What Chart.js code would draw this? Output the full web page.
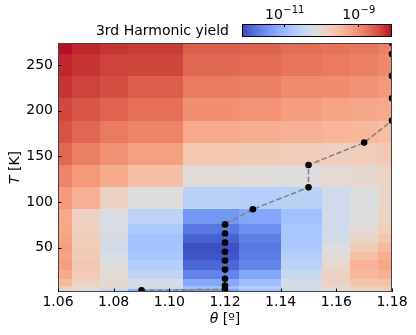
<!DOCTYPE html>
<html>
<head>
<meta charset="utf-8">
<script src="https://cdn.jsdelivr.net/npm/chart.js@4.4.0/dist/chart.umd.min.js"></script>
<style>
  html, body { margin: 0; padding: 0; background: #fff; }
  #wrap { width: 416px; height: 335px; }
</style>
</head>
<body>
<div id="wrap"><canvas id="chart" width="416" height="335"></canvas></div>
<script>
// cell edges of the map: twist angle (deg) and temperature (K)
var thetaEdges = [1.06, 1.065, 1.075, 1.085, 1.105, 1.125, 1.14, 1.155, 1.165, 1.175, 1.18];
var tempEdges = [1.5, 4.5, 8.5, 16, 26, 36, 45.5, 55.5, 65.5, 75.5, 92, 116, 140.5, 165, 189, 213.5, 238, 262, 274];

// log10 of the 3rd harmonic yield, one row per temperature band (lowest T first)
var yieldLog = [
  [-9.91, -10.12, -10.52, -11.13, -11.34, -10.93, -10.32, -10.03, -9.87, -9.79],
  [-9.75, -10.03, -10.07, -10.30, -10.89, -10.68, -10.24, -9.95, -9.79, -9.71],
  [-9.44, -9.83, -9.99, -10.24, -11.21, -10.93, -10.24, -9.85, -9.61, -9.57],
  [-9.26, -9.71, -10.03, -10.52, -11.62, -11.25, -10.44, -9.81, -9.44, -9.36],
  [-9.14, -9.67, -10.12, -10.68, -11.91, -11.62, -10.56, -9.95, -9.38, -9.24],
  [-9.18, -9.71, -10.20, -10.81, -12.07, -11.70, -10.68, -10.07, -9.55, -9.32],
  [-9.14, -9.71, -10.24, -10.85, -12.11, -11.74, -10.77, -10.14, -9.71, -9.46],
  [-9.18, -9.77, -10.24, -10.85, -11.95, -11.66, -10.81, -10.26, -9.91, -9.63],
  [-9.22, -9.81, -10.20, -10.77, -11.74, -11.50, -10.81, -10.30, -10.05, -9.79],
  [-9.26, -9.83, -10.18, -10.56, -11.42, -11.25, -10.89, -10.32, -10.12, -9.87],
  [-9.10, -9.34, -9.83, -10.12, -10.60, -10.66, -10.58, -10.30, -10.14, -9.91],
  [-8.89, -9.10, -9.28, -9.55, -10.05, -10.07, -10.12, -10.01, -9.97, -9.87],
  [-8.65, -8.85, -9.02, -9.16, -9.65, -9.71, -9.73, -9.79, -9.75, -9.69],
  [-8.49, -8.65, -8.81, -8.89, -9.26, -9.32, -9.36, -9.42, -9.44, -9.53],
  [-8.41, -8.51, -8.61, -8.71, -8.99, -9.04, -9.14, -9.20, -9.24, -9.26],
  [-8.28, -8.37, -8.45, -8.57, -8.81, -8.85, -8.95, -8.97, -9.02, -9.10],
  [-8.20, -8.28, -8.37, -8.39, -8.65, -8.69, -8.77, -8.81, -8.85, -8.93],
  [-8.12, -8.20, -8.28, -8.32, -8.57, -8.61, -8.69, -8.73, -8.77, -8.85]
];

// angle of the extremum for each temperature
var peakTheta = [1.09, 1.12, 1.12, 1.12, 1.12, 1.12, 1.12, 1.12, 1.12, 1.12, 1.13, 1.15, 1.15, 1.17, 1.18, 1.18, 1.18, 1.18, 1.18];
var peakTemp = [3.4, 4.5, 8.5, 16, 26, 36, 45.5, 55.5, 65.5, 75.5, 92, 116, 140.5, 165, 189, 213.5, 238, 262, 274];

var xTicks = [1.06, 1.08, 1.10, 1.12, 1.14, 1.16, 1.18];
var yTicks = [50, 100, 150, 200, 250];
var cbarTicks = [-11, -9];
var cbarExp = ['-11', '-9'];
var logMin = -12.15, logMax = -8.08;

// coolwarm colour table
var cmap = [
  [59,76,192],[68,90,204],[77,104,215],[87,117,225],[98,130,234],[108,142,241],[119,154,247],[130,165,251],
  [141,176,254],[152,185,255],[163,194,255],[174,201,253],[184,208,249],[194,213,244],[204,217,238],[213,219,230],
  [221,221,221],[229,216,209],[236,211,197],[241,204,185],[245,196,173],[247,187,160],[247,177,148],[247,166,135],
  [244,154,123],[241,141,111],[236,127,99],[229,112,88],[222,96,77],[213,80,66],[203,62,56],[192,40,47],[180,4,38]
];

function coolwarm(t) {
  t = Math.max(0, Math.min(1, t));
  var p = t * (cmap.length - 1);
  var i = Math.floor(p), f = p - i;
  if (i >= cmap.length - 1) { i = cmap.length - 2; f = 1; }
  var a = cmap[i], b = cmap[i + 1];
  return 'rgb(' + Math.round(a[0] + (b[0] - a[0]) * f) + ',' +
    Math.round(a[1] + (b[1] - a[1]) * f) + ',' +
    Math.round(a[2] + (b[2] - a[2]) * f) + ')';
}

var FONT = '"DejaVu Sans", sans-serif';

var heatmapPlugin = {
  id: 'heatmap',
  beforeDatasetsDraw: function(chart) {
    var ctx = chart.ctx, xs = chart.scales.x, ys = chart.scales.y, area = chart.chartArea;
    ctx.save();
    ctx.beginPath();
    ctx.rect(area.left, area.top, area.right - area.left, area.bottom - area.top);
    ctx.clip();
    for (var i = 0; i < yieldLog.length; i++) {
      var y0 = Math.round(ys.getPixelForValue(tempEdges[i]));
      var y1 = Math.round(ys.getPixelForValue(tempEdges[i + 1]));
      for (var j = 0; j < yieldLog[i].length; j++) {
        var x0 = Math.round(xs.getPixelForValue(thetaEdges[j]));
        var x1 = Math.round(xs.getPixelForValue(thetaEdges[j + 1]));
        ctx.fillStyle = coolwarm((yieldLog[i][j] - logMin) / (logMax - logMin));
        ctx.fillRect(x0, y1, x1 - x0, y0 - y1);
      }
    }
    ctx.restore();
  },
  afterDraw: function(chart) {
    var ctx = chart.ctx, xs = chart.scales.x, ys = chart.scales.y, area = chart.chartArea;
    ctx.save();
    // frame
    ctx.strokeStyle = '#444';
    ctx.lineWidth = 1;
    ctx.strokeRect(area.left + 0.5, area.top + 0.5, area.right - area.left - 1, area.bottom - area.top - 1);
    // inward ticks
    ctx.strokeStyle = '#000';
    ctx.beginPath();
    xTicks.forEach(function(v) {
      var x = Math.round(xs.getPixelForValue(v)) + 0.5;
      ctx.moveTo(x, area.bottom);
      ctx.lineTo(x, area.bottom - 3.5);
    });
    yTicks.forEach(function(v) {
      var y = Math.round(ys.getPixelForValue(v)) + 0.5;
      ctx.moveTo(area.left, y);
      ctx.lineTo(area.left + 3.5, y);
    });
    ctx.stroke();

    // axis titles
    ctx.fillStyle = '#000';
    ctx.textBaseline = 'alphabetic';
    ctx.font = 'italic 14px ' + FONT;
    var w1 = ctx.measureText('\u03B8').width;
    ctx.font = '14px ' + FONT;
    var w2 = ctx.measureText(' [\u00BA]').width;
    var cx = (area.left + area.right) / 2 - (w1 + w2) / 2;
    ctx.textAlign = 'left';
    ctx.font = 'italic 14px ' + FONT;
    ctx.fillText('\u03B8', cx, 323);
    ctx.font = '14px ' + FONT;
    ctx.fillText(' [\u00BA]', cx + w1, 323);

    ctx.save();
    ctx.translate(18.5, (area.top + area.bottom) / 2);
    ctx.rotate(-Math.PI / 2);
    ctx.font = 'italic 14px ' + FONT;
    var t1 = ctx.measureText('T').width;
    ctx.font = '14px ' + FONT;
    var t2 = ctx.measureText(' [K]').width;
    ctx.font = 'italic 14px ' + FONT;
    ctx.fillText('T', -(t1 + t2) / 2, 0);
    ctx.font = '14px ' + FONT;
    ctx.fillText(' [K]', -(t1 + t2) / 2 + t1, 0);
    ctx.restore();

    // colour bar
    var cbRight = area.right, cbLeft = area.right - 150, cbTop = 24, cbBottom = 37;
    var grad = ctx.createLinearGradient(cbLeft, 0, cbRight, 0);
    cmap.forEach(function(c, k) {
      grad.addColorStop(k / (cmap.length - 1), 'rgb(' + c[0] + ',' + c[1] + ',' + c[2] + ')');
    });
    ctx.fillStyle = grad;
    ctx.fillRect(cbLeft, cbTop, cbRight - cbLeft, cbBottom - cbTop);
    ctx.strokeStyle = '#000';
    ctx.strokeRect(cbLeft + 0.5, cbTop + 0.5, cbRight - cbLeft - 1, cbBottom - cbTop - 1);
    ctx.beginPath();
    ctx.fillStyle = '#000';
    ctx.textAlign = 'left';
    cbarTicks.forEach(function(v, k) {
      var x = Math.round(cbLeft + (v - logMin) / (logMax - logMin) * (cbRight - cbLeft)) + 0.5;
      ctx.moveTo(x, cbTop);
      ctx.lineTo(x, cbTop + 3);
      // "10" with a raised exponent
      ctx.font = '14px ' + FONT;
      var bw = ctx.measureText('10').width;
      ctx.font = '10px ' + FONT;
      var ew = ctx.measureText('\u2212' + cbarExp[k].slice(1)).width;
      var sx = x - (bw + ew) / 2;
      ctx.font = '14px ' + FONT;
      ctx.fillText('10', sx, 19);
      ctx.font = '10px ' + FONT;
      ctx.fillText('\u2212' + cbarExp[k].slice(1), sx + bw + 0.5, 13);
    });
    ctx.stroke();
    ctx.font = '14px ' + FONT;
    ctx.textAlign = 'right';
    ctx.fillText('3rd Harmonic yield', cbLeft - 13, 35);
    ctx.restore();
  }
};

var points = peakTheta.map(function(t, k) { return { x: t, y: peakTemp[k] }; });

Chart.defaults.font.family = FONT;
Chart.defaults.font.size = 14;
Chart.defaults.color = '#000';

new Chart(document.getElementById('chart'), {
  type: 'scatter',
  data: {
    datasets: [{
      data: points,
      showLine: true,
      borderColor: 'rgb(128,128,128)',
      borderWidth: 1.5,
      borderDash: [5.5, 2.4],
      pointRadius: 3.3,
      pointBackgroundColor: '#000',
      pointBorderWidth: 0,
      clip: 0
    }]
  },
  options: {
    responsive: false,
    devicePixelRatio: 1,
    animation: false,
    layout: { padding: { left: 0, right: 24, top: 43, bottom: 0 } },
    plugins: { legend: { display: false }, tooltip: { enabled: false } },
    scales: {
      x: {
        type: 'linear', min: 1.06, max: 1.18,
        grid: { display: false, drawTicks: false },
        border: { display: false },
        afterBuildTicks: function(scale) { scale.ticks = xTicks.map(function(v) { return { value: v }; }); },
        afterFit: function(scale) { scale.height = 43; },
        ticks: { padding: 2, autoSkip: false, maxRotation: 0, callback: function(v) { return v.toFixed(2); } }
      },
      y: {
        type: 'linear', min: 1.5, max: 274,
        grid: { display: false, drawTicks: false },
        border: { display: false },
        afterBuildTicks: function(scale) { scale.ticks = yTicks.map(function(v) { return { value: v }; }); },
        afterFit: function(scale) { scale.width = 58; },
        ticks: { padding: 5, autoSkip: false, callback: function(v) { return String(v); } }
      }
    }
  },
  plugins: [heatmapPlugin]
});
</script>
</body>
</html>
